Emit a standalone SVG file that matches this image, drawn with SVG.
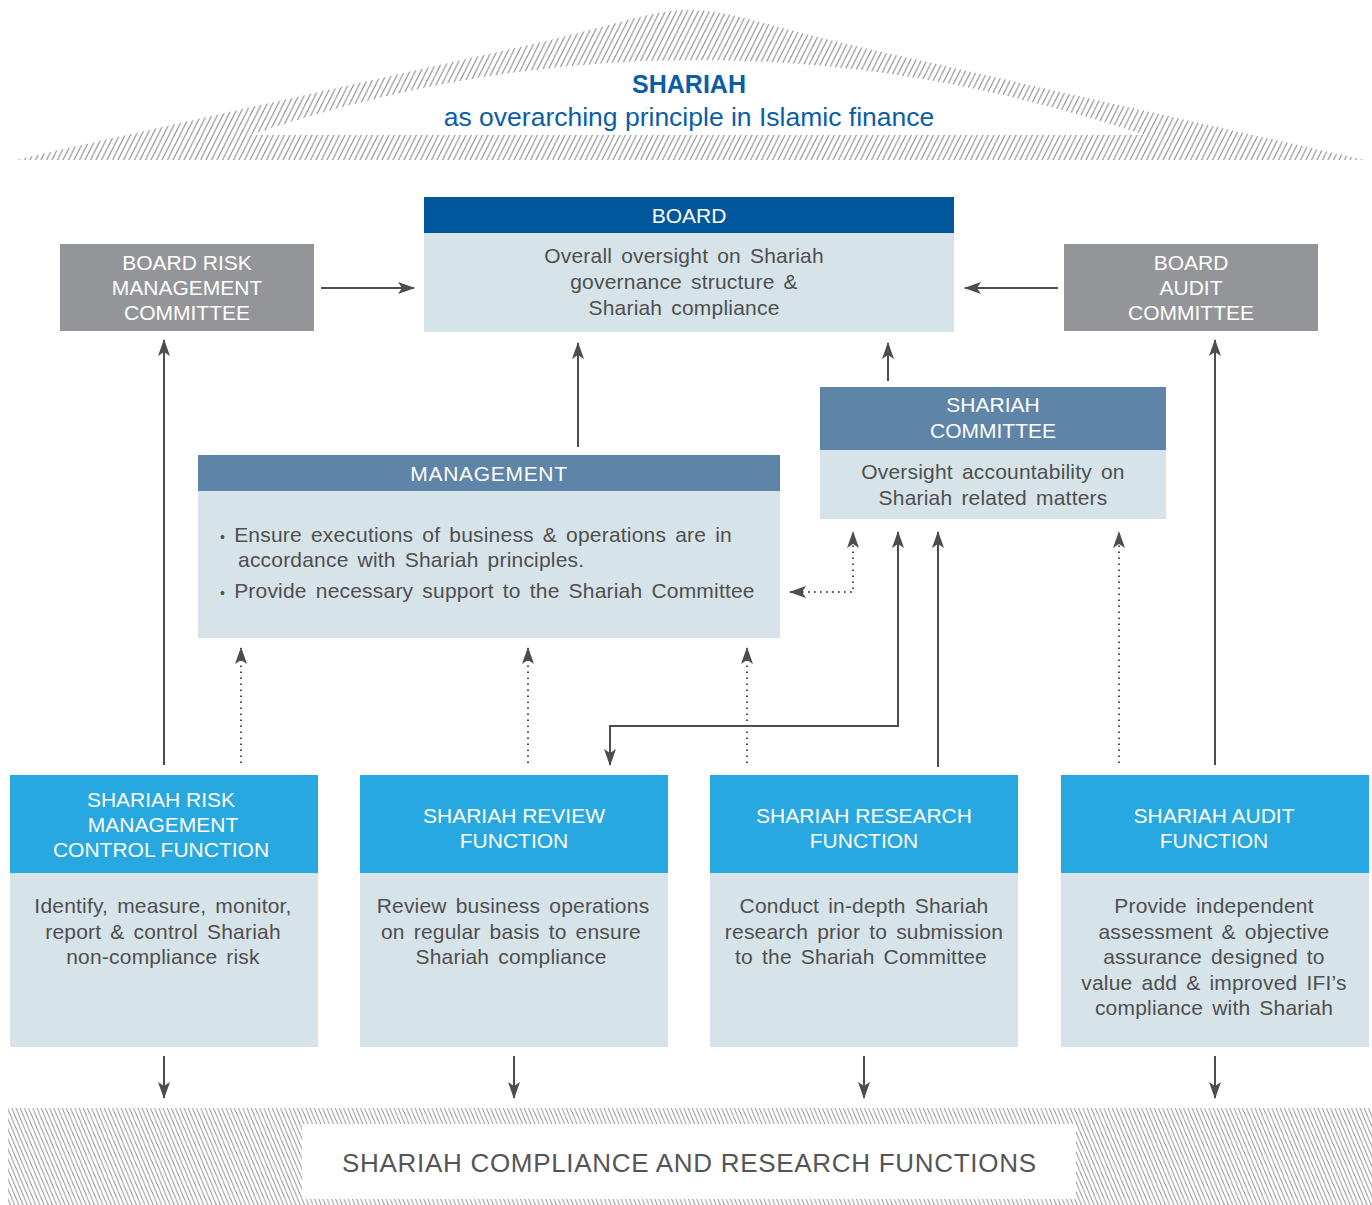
<svg xmlns="http://www.w3.org/2000/svg" width="1372" height="1205" viewBox="0 0 1372 1205">
  <style>
    text { font-family: "Liberation Sans", Arial, sans-serif; }
    .hd { font-size: 21px; fill: #ffffff; text-anchor: middle; }
    .bd { font-size: 21px; fill: #4f4f4f; text-anchor: middle; letter-spacing: 0.2px; word-spacing: 3px; }
    .bl { font-size: 21px; fill: #4f4f4f; letter-spacing: 0.2px; word-spacing: 3px; }
    .top { fill: #0b5ea6; text-anchor: middle; }
    .navy { fill: #00589c; }
    .steel { fill: #5e84a8; }
    .cyan { fill: #27a8e0; }
    .pale { fill: #d6e3e8; }
    .grey { fill: #939598; }
    .ln { fill: none; stroke: #4d4d4d; stroke-width: 2; }
    .dot { fill: none; stroke: #4d4d4d; stroke-width: 2; stroke-dasharray: 1.6 4.4; }
  </style>
  <defs>
    <pattern id="hatchRoof" patternUnits="userSpaceOnUse" width="5.5" height="11">
      <path d="M-5.5,11 L0,0 M0,11 L5.5,0 M5.5,11 L11,0" stroke="#8e8e8e" stroke-width="1.15" fill="none"/>
    </pattern>
    <pattern id="hatchBase" patternUnits="userSpaceOnUse" width="4.2" height="10">
      <path d="M-4.2,0 L0,10 M0,0 L4.2,10 M4.2,0 L8.4,10" stroke="#959595" stroke-width="1" fill="none"/>
    </pattern>
    <marker id="head" viewBox="0 0 17 12" refX="16" refY="6" markerWidth="17" markerHeight="12" markerUnits="userSpaceOnUse" orient="auto-start-reverse">
      <path d="M0,0 L17,6 L0,12 L4,6 Z" fill="#4d4d4d"/>
    </marker>
  </defs>

  <!-- roof: hatched gable with an open band for the title -->
  <g id="roof">
    <path d="M15,160 L520,47 C620,24.6 650,10 690,10 C730,10 760,24.6 860,47 L1365,160 Z" fill="url(#hatchRoof)"/>
    <path d="M250,135 Q695,-15 1145,135 Z" fill="#ffffff"/>
    <text class="top" x="689" y="93" font-size="25" font-weight="bold">SHARIAH</text>
    <text class="top" x="689" y="126" font-size="26.5">as overarching principle in Islamic finance</text>
  </g>

  <!-- base: hatched foundation with label -->
  <g id="base">
    <rect x="8" y="1108" width="1364" height="97" fill="url(#hatchBase)"/>
    <rect x="302" y="1124" width="774" height="75" fill="#ffffff"/>
    <text x="689" y="1172" font-size="26" fill="#555555" text-anchor="middle" textLength="694" lengthAdjust="spacing">SHARIAH COMPLIANCE AND RESEARCH FUNCTIONS</text>
  </g>

  <g id="board">
    <rect class="navy" x="424" y="197" width="530" height="36"/>
    <rect class="pale" x="424" y="233" width="530" height="99"/>
    <text class="hd" x="689" y="223">BOARD</text>
    <text class="bd" x="684" y="263">Overall oversight on Shariah</text>
    <text class="bd" x="684" y="289">governance structure &amp;</text>
    <text class="bd" x="684" y="315">Shariah compliance</text>
  </g>

  <g id="board-risk-committee">
    <rect class="grey" x="60" y="244" width="254" height="87"/>
    <text class="hd" x="187" y="270">BOARD RISK</text>
    <text class="hd" x="187" y="295">MANAGEMENT</text>
    <text class="hd" x="187" y="320">COMMITTEE</text>
  </g>

  <g id="board-audit-committee">
    <rect class="grey" x="1064" y="244" width="254" height="87"/>
    <text class="hd" x="1191" y="270">BOARD</text>
    <text class="hd" x="1191" y="295">AUDIT</text>
    <text class="hd" x="1191" y="320">COMMITTEE</text>
  </g>

  <g id="shariah-committee">
    <rect class="steel" x="820" y="387" width="346" height="63"/>
    <rect class="pale" x="820" y="450" width="346" height="69"/>
    <text class="hd" x="993" y="412">SHARIAH</text>
    <text class="hd" x="993" y="438">COMMITTEE</text>
    <text class="bd" x="993" y="479">Oversight accountability on</text>
    <text class="bd" x="993" y="505">Shariah related matters</text>
  </g>

  <g id="management">
    <rect class="steel" x="198" y="455" width="582" height="36"/>
    <rect class="pale" x="198" y="491" width="582" height="147"/>
    <text class="hd" x="489" y="481" letter-spacing="0.7">MANAGEMENT</text>
    <text class="bl" x="220" y="542"><tspan font-size="14">•</tspan> Ensure executions of business &amp; operations are in</text>
    <text class="bl" x="238" y="567">accordance with Shariah principles.</text>
    <text class="bl" x="220" y="598"><tspan font-size="14">•</tspan> Provide necessary support to the Shariah Committee</text>
  </g>

  <g id="risk-control-function">
    <rect class="cyan" x="10" y="775" width="308" height="98"/>
    <rect class="pale" x="10" y="873" width="308" height="174"/>
    <text class="hd" x="161" y="807">SHARIAH RISK</text>
    <text class="hd" x="163" y="832">MANAGEMENT</text>
    <text class="hd" x="161" y="857">CONTROL FUNCTION</text>
    <text class="bd" x="163" y="913">Identify, measure, monitor,</text>
    <text class="bd" x="163" y="939">report &amp; control Shariah</text>
    <text class="bd" x="163" y="964">non-compliance risk</text>
  </g>

  <g id="review-function">
    <rect class="cyan" x="360" y="775" width="308" height="98"/>
    <rect class="pale" x="360" y="873" width="308" height="174"/>
    <text class="hd" x="514" y="823">SHARIAH REVIEW</text>
    <text class="hd" x="514" y="848">FUNCTION</text>
    <text class="bd" x="513" y="913">Review business operations</text>
    <text class="bd" x="511" y="939">on regular basis to ensure</text>
    <text class="bd" x="511" y="964">Shariah compliance</text>
  </g>

  <g id="research-function">
    <rect class="cyan" x="710" y="775" width="308" height="98"/>
    <rect class="pale" x="710" y="873" width="308" height="174"/>
    <text class="hd" x="864" y="823">SHARIAH RESEARCH</text>
    <text class="hd" x="864" y="848">FUNCTION</text>
    <text class="bd" x="864" y="913">Conduct in-depth Shariah</text>
    <text class="bd" x="864" y="939">research prior to submission</text>
    <text class="bd" x="861" y="964">to the Shariah Committee</text>
  </g>

  <g id="audit-function">
    <rect class="cyan" x="1061" y="775" width="308" height="98"/>
    <rect class="pale" x="1061" y="873" width="308" height="174"/>
    <text class="hd" x="1214" y="823">SHARIAH AUDIT</text>
    <text class="hd" x="1214" y="848">FUNCTION</text>
    <text class="bd" x="1214" y="913">Provide independent</text>
    <text class="bd" x="1214" y="939">assessment &amp; objective</text>
    <text class="bd" x="1214" y="964">assurance designed to</text>
    <text class="bd" x="1214" y="990">value add &amp; improved IFI’s</text>
    <text class="bd" x="1214" y="1015">compliance with Shariah</text>
  </g>

  <g id="connectors">
    <!-- committees into the board -->
    <path class="ln" d="M321,288 H414" marker-end="url(#head)"/>
    <path class="ln" d="M1058,288 H965" marker-end="url(#head)"/>
    <path class="ln" d="M578,447 V343" marker-end="url(#head)"/>
    <path class="ln" d="M888,381 V343" marker-end="url(#head)"/>
    <!-- outer functions up to board committees -->
    <path class="ln" d="M164,765 V340" marker-end="url(#head)"/>
    <path class="ln" d="M1215,765 V340" marker-end="url(#head)"/>
    <!-- management / shariah committee link -->
    <path class="dot" d="M790,592 H853 V532" marker-start="url(#head)" marker-end="url(#head)"/>
    <!-- review function and shariah committee -->
    <path class="ln" d="M610,765 V726 H898 V532" marker-start="url(#head)" marker-end="url(#head)"/>
    <path class="ln" d="M938,767 V532" marker-end="url(#head)"/>
    <path class="dot" d="M1119,763 V532" marker-end="url(#head)"/>
    <!-- functions reporting to management -->
    <path class="dot" d="M241,763 V648" marker-end="url(#head)"/>
    <path class="dot" d="M528,763 V648" marker-end="url(#head)"/>
    <path class="dot" d="M747,763 V648" marker-end="url(#head)"/>
    <!-- functions down to the base -->
    <path class="ln" d="M164,1056 V1098" marker-end="url(#head)"/>
    <path class="ln" d="M514,1056 V1098" marker-end="url(#head)"/>
    <path class="ln" d="M864,1056 V1098" marker-end="url(#head)"/>
    <path class="ln" d="M1215,1056 V1098" marker-end="url(#head)"/>
  </g>
</svg>
